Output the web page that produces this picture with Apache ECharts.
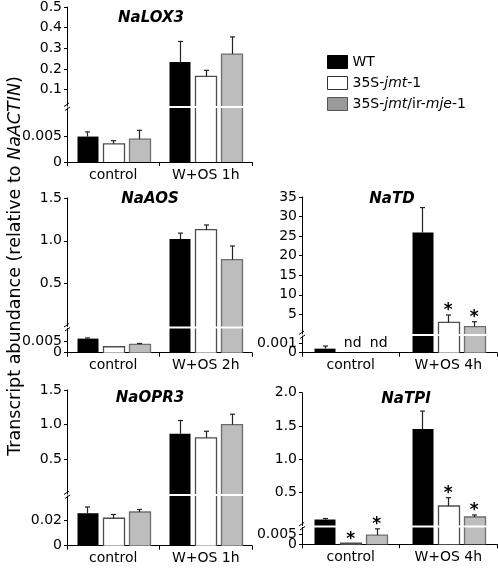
<!DOCTYPE html>
<html>
<head>
<meta charset="utf-8">
<script src="https://cdn.jsdelivr.net/npm/echarts@6/dist/echarts.min.js"></script>
<style>html,body{margin:0;padding:0;background:#fff}#c{width:498px;height:568px}</style>
</head>
<body>
<div id="c"></div>
<script>
// ---------------- data ----------------
const genes = ['NaLOX3', 'NaAOS', 'NaTD', 'NaOPR3', 'NaTPI'];
const categories = [
  ['control', 'W+OS 1h'],
  ['control', 'W+OS 2h'],
  ['control', 'W+OS 4h'],
  ['control', 'W+OS 1h'],
  ['control', 'W+OS 4h']
];
const seriesNames = ['WT', '35S-jmt-1', '35S-jmt/ir-mje-1'];
// means [control, W+OS] per panel (null = nd)
const wtMean  = [[0.0049, 0.233], [0.0064, 1.02], [0.00043, 25.9], [0.026, 0.87], [0.09, 1.453]];
const wtErr   = [[0.0009, 0.100], [0.0003, 0.07], [0.00028, 6.4], [0.005, 0.19], [0.015, 0.27]];
const jmtMean = [[0.0035, 0.164], [0.0027, 1.13], [null, 2.99], [0.022, 0.81], [0.0005, 0.294]];
const jmtErr  = [[0.0006, 0.029], [0, 0.055], [0, 1.86], [0.003, 0.095], [0, 0.125]];
const mjeMean = [[0.0044, 0.272], [0.0038, 0.78], [null, 1.87], [0.027, 1.0], [0.0045, 0.128]];
const mjeErr  = [[0.0017, 0.083], [0.0004, 0.16], [0, 1.27], [0.002, 0.15], [0.003, 0.03]];
const wtStar  = [[0, 0], [0, 0], [0, 0], [0, 0], [0, 0]];
const jmtStar = [[0, 0], [0, 0], [0, 1], [0, 0], [1, 1]];
const mjeStar = [[0, 0], [0, 0], [0, 1], [0, 0], [1, 1]];
// broken axis segments
const lowerMax = [0.0104, 0.011, 0.00178, 0.0398, 0.00816];
const upperMin = [0.02, 0, 0, 0, 0];
const upperMax = [0.5, 1.5, 35, 1.5, 2.0];
const lowerTicks = [[0.005], [0.005], [0.001], [0.02], [0.005]];
const zeroTick = [0];
const upperTicks = [[0.1, 0.2, 0.3, 0.4, 0.5], [0.5, 1.0, 1.5], [5, 10, 15, 20, 25, 30, 35], [0.5, 1.0, 1.5], [0.5, 1.0, 1.5, 2.0]];
const lowerDec = [3, 3, 3, 2, 3];
const upperDec = [1, 1, 0, 1, 1];

// ---------------- layout / style ----------------
const FONT = 'DejaVu Sans';
const box = [
  {left: 67,  right: 252, upTop: 7,     upBot: 106,   lowTop: 108,   lowBot: 162,   tx: 151, ty: 18},
  {left: 67,  right: 252, upTop: 198,   upBot: 326.5, lowTop: 328.5, lowBot: 352.7, tx: 150, ty: 199},
  {left: 302, right: 497, upTop: 197,   upBot: 334,   lowTop: 336,   lowBot: 352.7, tx: 392, ty: 199},
  {left: 67,  right: 252, upTop: 390,   upBot: 494,   lowTop: 496,   lowBot: 545.7, tx: 150, ty: 398},
  {left: 302, right: 497, upTop: 392.7, upBot: 525.5, lowTop: 527.5, lowBot: 544.3, tx: 406, ty: 399}
];
const STEP = 26, BW = 21;
const fills = ['#000000', '#ffffff', '#bdbdbd'];
const strokes = [null, '#4d4d4d', '#6e6e6e'];
const legendFills = ['#000000', '#ffffff', '#9a9a9a'];
const legendStrokes = ['#000000', '#333333', '#555555'];

const means = [wtMean, jmtMean, mjeMean];
const errs = [wtErr, jmtErr, mjeErr];
const stars = [wtStar, jmtStar, mjeStar];

function makeRender(k, part, p) {
  return function (params, api) {
    const cs = params.coordSys;
    const cat = api.value(0);
    const v = api.value(1);
    const err = api.value(2);
    const star = api.value(3);
    const nd = api.value(4);
    const base = api.coord([cat, 0]);
    const cx = base[0] + (k - 1) * STEP;
    const x0 = Math.round(cx - BW / 2) + 0.5;
    const children = [];
    const gTop = cs.y, gBot = cs.y + cs.height;
    if (nd) {
      if (part === 'low') {
        children.push({type: 'text', style: {text: 'nd', x: cx + 2, y: gBot - 2, fill: '#000',
          font: '14px ' + FONT, align: 'center', verticalAlign: 'bottom', textAlign: 'center', textVerticalAlign: 'bottom'}});
      }
      return {type: 'group', children: children};
    }
    if (isNaN(v)) return {type: 'group', children: []};
    if (part === 'up' && v <= lowerMax[p]) return {type: 'group', children: []};
    const top = api.coord([cat, v])[1];
    const yTop = Math.max(top, gTop);
    const yBot = Math.min(base[1], gBot);
    if (yBot - yTop < 0.3) return {type: 'group', children: []};
    children.push({type: 'rect', shape: {x: x0, y: yTop, width: BW, height: yBot - yTop},
      style: {fill: fills[k], stroke: null}});
    const clippedTop = top < gTop - 0.1;
    if (strokes[k]) {
      if (clippedTop) {
        children.push({type: 'polyline', shape: {points: [[x0, yBot], [x0, yTop]]}, style: {stroke: strokes[k], lineWidth: 1.3, fill: null}});
        children.push({type: 'polyline', shape: {points: [[x0 + BW, yTop], [x0 + BW, yBot]]}, style: {stroke: strokes[k], lineWidth: 1.3, fill: null}});
      } else {
        children.push({type: 'polyline', shape: {points: [[x0, yBot], [x0, yTop], [x0 + BW, yTop], [x0 + BW, yBot]]},
          style: {stroke: strokes[k], lineWidth: 1.3, fill: null}});
      }
    }
    if (!clippedTop) {
      let yE = yTop;
      if (err > 0) {
        yE = api.coord([cat, v + err])[1];
        const ex = Math.round(cx) + 0.5;
        children.push({type: 'line', shape: {x1: ex, y1: yTop, x2: ex, y2: yE}, style: {stroke: '#222', lineWidth: 1.2}});
        children.push({type: 'line', shape: {x1: ex - 2.5, y1: yE, x2: ex + 2.5, y2: yE}, style: {stroke: '#222', lineWidth: 1.2}});
      }
      if (star) {
        children.push({type: 'text', style: {text: '*', x: cx, y: yE - 4, fill: '#000',
          font: 'bold 17px ' + FONT, align: 'center', verticalAlign: 'middle', textAlign: 'center', textVerticalAlign: 'middle'}});
      }
    }
    return {type: 'group', children: children};
  };
}

const grid = [], xAxis = [], yAxis = [], series = [], graphic = [];
const axisColor = '#000';

function valueAxis(gi, min, max, ticks, dec, showLine) {
  return {
    type: 'value', gridIndex: gi, min: min, max: max, position: 'left', offset: 0,
    axisLine: {show: showLine, lineStyle: {color: axisColor, width: 1}},
    axisTick: {show: true, length: 3, customValues: ticks, lineStyle: {color: axisColor}},
    axisLabel: {show: true, customValues: ticks, margin: 5, color: '#000', fontFamily: FONT, fontSize: 14,
      hideOverlap: false, showMinLabel: true, showMaxLabel: true,
      formatter: function (val) { return val === 0 ? '0' : val.toFixed(dec); }},
    splitLine: {show: false}
  };
}

genes.forEach(function (g, p) {
  const b = box[p];
  ['up', 'low'].forEach(function (part) {
    const gi = grid.length;
    const top = part === 'up' ? b.upTop : b.lowTop;
    const bot = part === 'up' ? b.upBot : b.lowBot;
    grid.push({left: b.left, top: top, width: b.right - b.left, height: bot - top, containLabel: false, outerBoundsMode: 'none'});
    xAxis.push({
      type: 'category', gridIndex: gi, data: categories[p], boundaryGap: true,
      show: part === 'low',
      axisLine: {show: true, lineStyle: {color: axisColor, width: 1}},
      axisTick: {show: true, interval: 0, length: 4, alignWithLabel: false, lineStyle: {color: axisColor}},
      axisLabel: {show: true, interval: 0, margin: 6, color: '#000', fontFamily: FONT, fontSize: 14, hideOverlap: false},
      splitLine: {show: false}
    });
    const yi = yAxis.length;
    if (part === 'up') {
      yAxis.push(valueAxis(gi, upperMin[p], upperMax[p], upperTicks[p], upperDec[p], true));
    } else {
      yAxis.push(valueAxis(gi, 0, lowerMax[p], lowerTicks[p], lowerDec[p], true));
      yAxis.push(valueAxis(gi, 0, lowerMax[p], zeroTick, 0, false));
    }
    for (let k = 0; k < 3; k++) {
      const data = [0, 1].map(function (c) {
        const m = means[k][p][c];
        return [c, m === null ? NaN : m, errs[k][p][c], stars[k][p][c], m === null ? 1 : 0];
      });
      series.push({
        type: 'custom', name: seriesNames[k], xAxisIndex: gi, yAxisIndex: yi,
        itemStyle: {color: legendFills[k]},
        renderItem: makeRender(k, part, p),
        data: data, silent: true
      });
    }
  });
  // panel title
  graphic.push({type: 'text', x: b.tx, y: b.ty, style: {text: g, fill: '#000', fontFamily: FONT, fontSize: 15,
    fontWeight: 'bold', fontStyle: 'italic', align: 'center', verticalAlign: 'middle', textAlign: 'center', textVerticalAlign: 'middle'}});
  // axis break mark
  const yb = (b.upBot + b.lowTop) / 2;
  graphic.push({type: 'line', shape: {x1: b.left - 3, y1: yb - 0.5, x2: b.left + 2, y2: yb - 4}, style: {stroke: '#000', lineWidth: 1}});
  graphic.push({type: 'line', shape: {x1: b.left - 2, y1: yb + 3.5, x2: b.left + 3, y2: yb}, style: {stroke: '#000', lineWidth: 1}});
});

// y axis title
graphic.push({type: 'text', x: 15, y: 266, rotation: Math.PI / 2,
  style: {text: 'Transcript abundance (relative to {i|NaACTIN})', fill: '#000', fontFamily: FONT, fontSize: 17.5,
    align: 'center', verticalAlign: 'middle', textAlign: 'center', textVerticalAlign: 'middle',
    rich: {i: {fontStyle: 'italic', fontFamily: FONT, fontSize: 17.5, fill: '#000', color: '#000'}}}});

const legendLabels = {
  'WT': 'WT',
  '35S-jmt-1': '35S-{i|jmt}-1',
  '35S-jmt/ir-mje-1': '35S-{i|jmt}/ir-{i|mje}-1'
};

const option = {
  animation: false,
  backgroundColor: '#fff',
  grid: grid, xAxis: xAxis, yAxis: yAxis, series: series, graphic: graphic,
  legend: {
    left: 322, top: 50, orient: 'vertical', icon: 'rect', itemWidth: 20, itemHeight: 13, itemGap: 7,
    selectedMode: false,
    data: seriesNames.map(function (n, k) {
      return {name: n, itemStyle: {color: legendFills[k], borderColor: legendStrokes[k], borderWidth: 1}};
    }),
    formatter: function (n) { return legendLabels[n]; },
    textStyle: {color: '#000', fontFamily: FONT, fontSize: 14,
      rich: {i: {fontStyle: 'italic', fontFamily: FONT, fontSize: 14, color: '#000'}}}
  }
};

const chart = echarts.init(document.getElementById('c'), null, {renderer: 'canvas'});
chart.setOption(option);
</script>
</body>
</html>
